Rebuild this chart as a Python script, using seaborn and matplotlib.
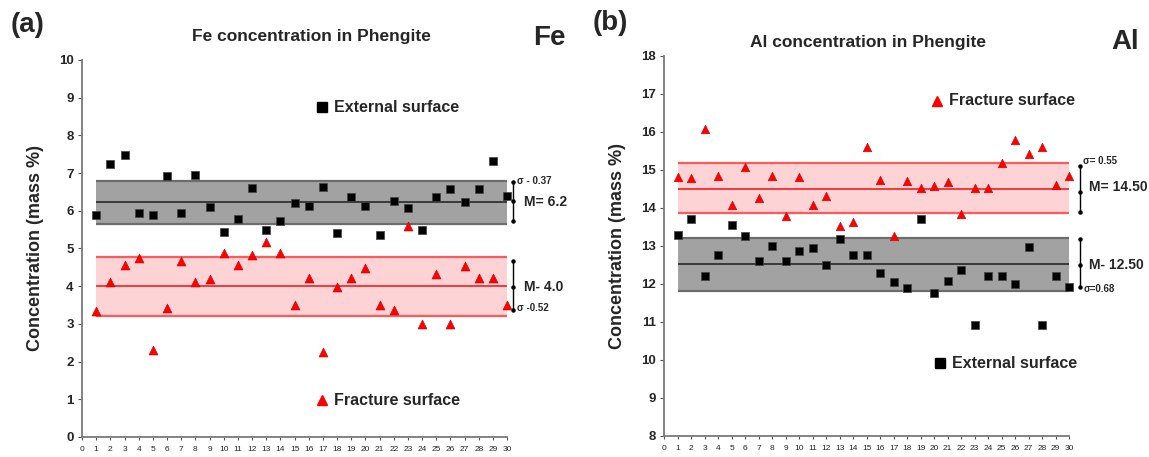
import numpy as np
import pandas as pd
import matplotlib
matplotlib.use("Agg")
import matplotlib.pyplot as plt
import matplotlib.transforms as mtransforms
import seaborn as sns

# ---------------- data ----------------
samples = list(range(1, 31))
fe_external = [5.89, 7.23, 7.49, 5.93, 5.89, 6.92, 5.94, 6.95, 6.09, 5.44,
               5.77, 6.61, 5.49, 5.72, 6.20, 6.12, 6.64, 5.42, 6.37, 6.12,
               5.36, 6.26, 6.08, 5.49, 6.37, 6.57, 6.24, 6.57, 7.33, 6.38]
fe_fracture = [3.33, 4.11, 4.56, 4.76, 2.31, 3.41, 4.67, 4.10, 4.20, 4.88,
               4.57, 4.84, 5.16, 4.88, 3.50, 4.21, 2.26, 3.97, 4.21, 4.48,
               3.49, 3.36, 5.60, 3.00, 4.33, 3.00, 4.53, 4.21, 4.21, 3.50]
al_external = [13.28, 13.72, 12.22, 12.76, 13.55, 13.27, 12.61, 13.01, 12.61, 12.87,
               12.94, 12.50, 13.18, 12.77, 12.77, 12.30, 12.06, 11.89, 13.72, 11.76,
               12.08, 12.36, 10.91, 12.22, 12.22, 12.00, 12.98, 10.91, 12.22, 11.93]
al_fracture = [14.81, 14.79, 16.07, 14.84, 14.07, 15.08, 14.25, 14.84, 13.79, 14.81,
               14.07, 14.31, 13.53, 13.63, 15.61, 14.73, 13.27, 14.72, 14.53, 14.59,
               14.68, 13.84, 14.53, 14.53, 15.18, 15.79, 15.42, 15.60, 14.60, 14.84]

# bands: (low, mean, high)
fe_external_band = (5.66, 6.23, 6.78)
fe_fracture_band = (3.22, 4.00, 4.78)
al_fracture_band = (13.88, 14.51, 15.18)
al_external_band = (11.81, 12.52, 13.20)

fe_labels = {"ext_sigma": "σ - 0.37", "ext_mean": "M= 6.2",
             "frac_mean": "M- 4.0", "frac_sigma": "σ -0.52"}
al_labels = {"frac_sigma": "σ= 0.55", "frac_mean": "M= 14.50",
             "ext_mean": "M- 12.50", "ext_sigma": "σ=0.68"}

# ---------------- style ----------------
sns.set_style("white")
plt.rcParams['font.family'] = ['Liberation Sans', 'DejaVu Sans']

fig = plt.figure(figsize=(11.49, 4.57), dpi=100)
axA = fig.add_axes([0.0714, 0.0438, 0.370, 0.825])
axB = fig.add_axes([0.578, 0.046, 0.3525, 0.8315])

GRAY_FILL = '#a2a2a2'
GRAY_EDGE = '#6c6c6c'
GRAY_MEAN = '#3a3a3a'
RED_FILL = '#fdd3d5'
RED_EDGE = '#ff5a5a'
RED_MEAN = '#f23a3a'


def draw_band(ax, band, fill, edge, meanc):
    lo, m, hi = band
    ax.fill_between([1, 30], [lo, lo], [hi, hi], color=fill, lw=0, zorder=1)
    ax.hlines([lo, hi], 1, 30, color=edge, lw=1.6, zorder=1.5)
    ax.hlines(m, 1, 30, color=meanc, lw=1.4, zorder=1.5)


def style_axes(ax, ymin, ymax):
    ax.set_xlim(0, 30)
    ax.set_ylim(ymin, ymax)
    ax.set_xticks(range(0, 31))
    ax.set_yticks(range(ymin, ymax + 1))
    ax.tick_params(axis='x', labelsize=6, length=2.5, width=0.8, pad=4,
                   color='#555555', direction='out', bottom=True)
    ax.tick_params(axis='y', labelsize=9.5, length=3, width=0.8, pad=3,
                   color='#555555', direction='out', left=True)
    for lab in ax.get_yticklabels():
        lab.set_fontweight('bold')
    for s in ['top', 'right']:
        ax.spines[s].set_visible(False)
    for s in ['left', 'bottom']:
        ax.spines[s].set_color('#7a7a7a')
        ax.spines[s].set_linewidth(1.3)
    ax.set_xlabel('')
    ax.set_ylabel('Concentration (mass %)', fontsize=13, fontweight='bold', labelpad=11)


def bracket(ax, xfrac, y0, y1, ymid):
    tr = mtransforms.blended_transform_factory(ax.transAxes, ax.transData)
    ax.plot([xfrac, xfrac], [y0, y1], color='black', lw=1.0, transform=tr, clip_on=False)
    ax.plot([xfrac, xfrac, xfrac], [y0, y1, ymid], ls='none', marker='o', ms=2.2,
            color='black', transform=tr, clip_on=False)


def rtext(ax, xfrac, y, s, size, bold=True):
    tr = mtransforms.blended_transform_factory(ax.transAxes, ax.transData)
    ax.text(xfrac, y, s, transform=tr, fontsize=size, va='center', ha='left',
            fontweight='bold' if bold else 'normal', clip_on=False)


# ---------------- panel (a) ----------------
dfA_ext = pd.DataFrame({'sample': samples, 'value': fe_external})
dfA_frac = pd.DataFrame({'sample': samples, 'value': fe_fracture})

draw_band(axA, fe_external_band, GRAY_FILL, GRAY_EDGE, GRAY_MEAN)
draw_band(axA, fe_fracture_band, RED_FILL, RED_EDGE, RED_MEAN)
sns.scatterplot(data=dfA_ext, x='sample', y='value', marker='s', s=34, color='black',
                edgecolor='#444444', linewidth=0.5, zorder=3, clip_on=False, ax=axA)
sns.scatterplot(data=dfA_frac, x='sample', y='value', marker='^', s=42, color='#ff0000',
                edgecolor='#d00000', linewidth=0.4, zorder=3, clip_on=False, ax=axA)
style_axes(axA, 0, 10)

axA.plot([0.565], [0.875], marker='s', ms=6.5, color='black', transform=axA.transAxes)
axA.text(0.593, 0.875, 'External surface', transform=axA.transAxes, fontsize=11.5,
         fontweight='bold', va='center')
axA.plot([0.565], [0.098], marker='^', ms=7.5, color='#ff0000', transform=axA.transAxes)
axA.text(0.593, 0.098, 'Fracture surface', transform=axA.transAxes, fontsize=11.5,
         fontweight='bold', va='center')

bracket(axA, 1.013, 6.77, 5.73, 6.25)
bracket(axA, 1.013, 4.67, 3.36, 3.99)
rtext(axA, 1.022, 6.80, fe_labels['ext_sigma'], 7)
rtext(axA, 1.040, 6.22, fe_labels['ext_mean'], 10)
rtext(axA, 1.040, 3.99, fe_labels['frac_mean'], 10)
rtext(axA, 1.022, 3.42, fe_labels['frac_sigma'], 7)

fig.text(28 / 1149, 1 - 25 / 457, '(a)', fontsize=20, fontweight='bold', ha='center', va='center')
fig.text(311 / 1149, 1 - 37 / 457, 'Fe concentration in Phengite', fontsize=12.5,
         fontweight='bold', ha='center', va='center')
fig.text(549 / 1149, 1 - 38 / 457, 'Fe', fontsize=20, fontweight='bold', ha='center', va='center')

# ---------------- panel (b) ----------------
dfB_ext = pd.DataFrame({'sample': samples, 'value': al_external})
dfB_frac = pd.DataFrame({'sample': samples, 'value': al_fracture})

draw_band(axB, al_fracture_band, RED_FILL, RED_EDGE, RED_MEAN)
draw_band(axB, al_external_band, GRAY_FILL, GRAY_EDGE, GRAY_MEAN)
sns.scatterplot(data=dfB_ext, x='sample', y='value', marker='s', s=26, color='black',
                edgecolor='#444444', linewidth=0.5, zorder=3, clip_on=False, ax=axB)
sns.scatterplot(data=dfB_frac, x='sample', y='value', marker='^', s=38, color='#ff0000',
                edgecolor='#d00000', linewidth=0.4, zorder=3, clip_on=False, ax=axB)
style_axes(axB, 8, 18)

axB.plot([0.674], [0.882], marker='^', ms=7.5, color='#ff0000', transform=axB.transAxes)
axB.text(0.703, 0.882, 'Fracture surface', transform=axB.transAxes, fontsize=11.5,
         fontweight='bold', va='center')
axB.plot([0.681], [0.192], marker='s', ms=6.5, color='black', transform=axB.transAxes)
axB.text(0.711, 0.192, 'External surface', transform=axB.transAxes, fontsize=11.5,
         fontweight='bold', va='center')

bracket(axB, 1.027, 15.10, 13.90, 14.43)
bracket(axB, 1.027, 13.18, 11.93, 12.50)
rtext(axB, 1.035, 15.24, al_labels['frac_sigma'], 7)
rtext(axB, 1.050, 14.56, al_labels['frac_mean'], 10)
rtext(axB, 1.050, 12.49, al_labels['ext_mean'], 10)
rtext(axB, 1.035, 11.87, al_labels['ext_sigma'], 7)

fig.text(610 / 1149, 1 - 23 / 457, '(b)', fontsize=20, fontweight='bold', ha='center', va='center')
fig.text(868 / 1149, 1 - 42 / 457, 'Al concentration in Phengite', fontsize=12.5,
         fontweight='bold', ha='center', va='center')
fig.text(1125 / 1149, 1 - 42 / 457, 'Al', fontsize=20, fontweight='bold', ha='center', va='center')

fig.savefig('out.png', dpi=100)
